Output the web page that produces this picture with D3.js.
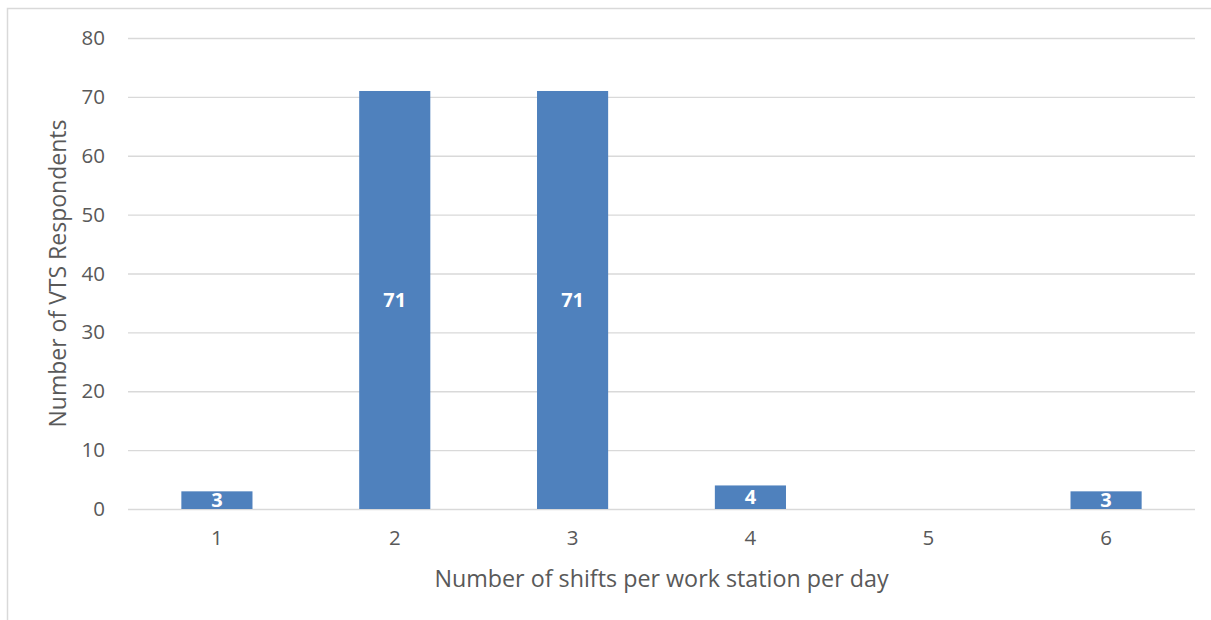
<!DOCTYPE html>
<html><head><meta charset="utf-8">
<script src="https://cdn.jsdelivr.net/npm/d3@7"></script>
<style>body{margin:0;background:#fff}svg{display:block}text{font-family:"Open Sans",sans-serif}</style>
</head><body><svg id="c" width="1211" height="620"></svg>
<script>
const categories = ["1","2","3","4","5","6"];
const values = [3, 71, 71, 4, 0, 3];
const yTicks = [0,10,20,30,40,50,60,70,80];
const xTitle = "Number of shifts per work station per day";
const yTitle = "Number of VTS Respondents";

const svg = d3.select("#c");
svg.append("rect").attr("x",7.5).attr("y",8.5).attr("width",1220).attr("height",630)
  .attr("fill","#fff").attr("stroke","#d9d9d9").attr("stroke-width",1.5);

const m = {l:128, r:1195, t:38, b:509};
const x = d3.scaleBand().domain(categories).range([m.l, m.r]).paddingInner(0.6).paddingOuter(0.3);
const y = d3.scaleLinear().domain([0,80]).range([m.b, m.t]);

const g = svg.append("g");
const ya = d3.axisLeft(y).tickValues(yTicks).tickSize(-(m.r-m.l)).tickPadding(23);
const yg = g.append("g").attr("transform",`translate(${m.l},0)`).call(ya);
yg.select(".domain").remove();
yg.selectAll(".tick line").attr("stroke","#d9d9d9").attr("stroke-width",1.3);
yg.selectAll(".tick text").attr("fill","#595959").style("font-size","20.5px");

const xa = d3.axisBottom(x).tickSize(0).tickPadding(21);
const xg = g.append("g").attr("transform",`translate(0,${m.b})`).call(xa);
xg.select(".domain").remove();
xg.selectAll(".tick text").attr("fill","#595959").style("font-size","20.5px");

const data = categories.map((c,i)=>({c, v:values[i]}));
g.selectAll("rect.bar").data(data.filter(d=>d.v>0)).join("rect").attr("class","bar")
  .attr("x",d=>x(d.c)).attr("width",x.bandwidth())
  .attr("y",d=>y(d.v)).attr("height",d=>y(0)-y(d.v)).attr("fill","#4f81bd");

g.selectAll("text.lbl").data(data.filter(d=>d.v>0)).join("text").attr("class","lbl")
  .attr("x",d=>x(d.c)+x.bandwidth()/2).attr("y",d=>(y(d.v)+y(0))/2)
  .attr("dy","0.36em").attr("text-anchor","middle").attr("fill","#fff")
  .style("font-size","20px").style("font-weight","bold").text(d=>d.v);

svg.append("text").attr("x",(m.l+m.r)/2).attr("y",587).attr("text-anchor","middle")
  .attr("fill","#595959").style("font-size","23.3px").text(xTitle);
svg.append("text").attr("transform",`translate(66,${(m.t+m.b)/2}) rotate(-90)`).attr("text-anchor","middle")
  .attr("fill","#595959").style("font-size","23px").text(yTitle);
</script></body></html>
